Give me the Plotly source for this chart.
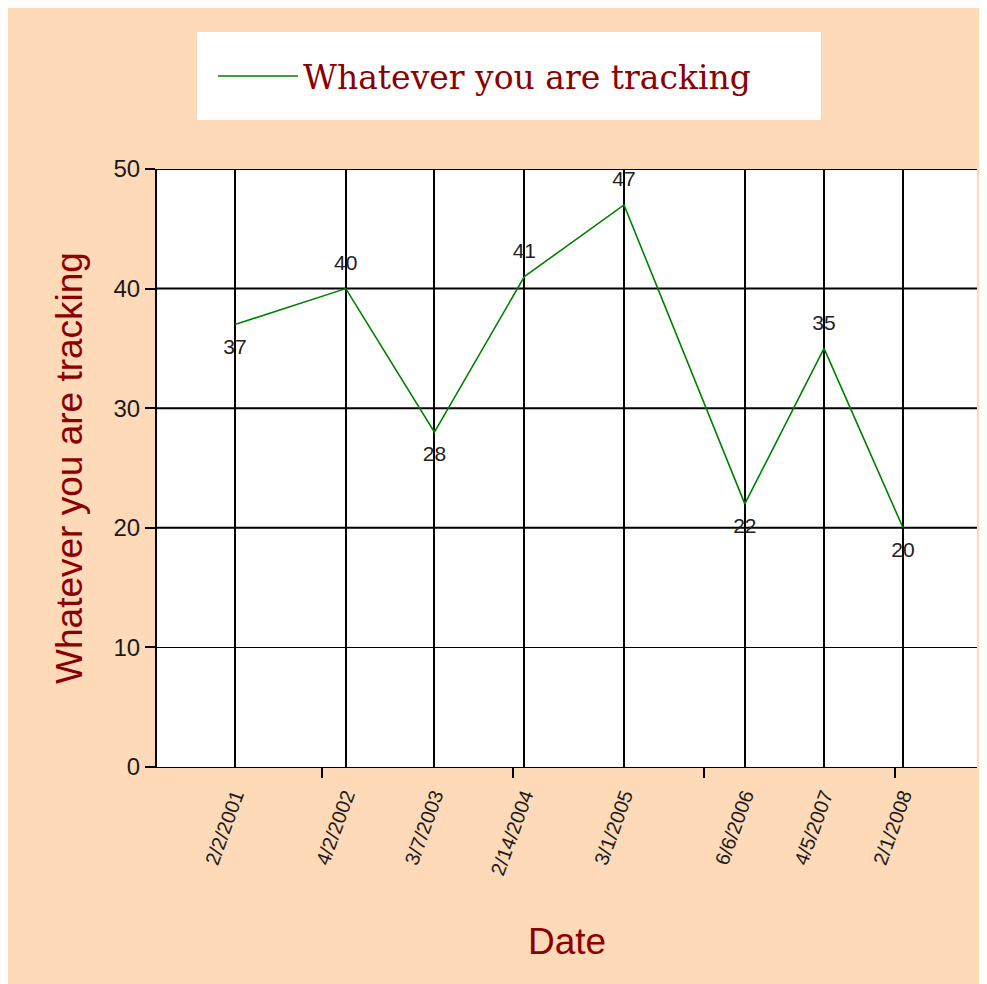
import plotly.graph_objects as go

# ---- data ----
dates = ["2001-02-02", "2002-04-02", "2003-03-07", "2004-02-14",
         "2005-03-01", "2006-06-06", "2007-04-05", "2008-02-01"]
date_labels = ["2/2/2001", "4/2/2002", "3/7/2003", "2/14/2004",
               "3/1/2005", "6/6/2006", "4/5/2007", "2/1/2008"]
values = [37, 40, 28, 41, 47, 22, 35, 20]
label_positions = ["bottom center", "top center", "bottom center", "top center",
                   "top center", "bottom center", "top center", "bottom center"]
series_name = "Whatever you are tracking"
x_title = "Date"
y_ticks = [0, 10, 20, 30, 40, 50]
y_thick_grid = [20, 30, 40, 50]
x_minor_ticks = ["2002-01-01", "2004-01-01", "2006-01-01", "2008-01-01"]
x_range = ["2000-04-10", "2008-11-10"]
y_range = [0, 50]

PEACH = "#FFDAB9"
DARKRED = "#8B0000"
W, H = 987, 984
ML, MR, MT, MB = 149, 18, 161, 225
PW, PH = W - ML - MR, H - MT - MB

fig = go.Figure()
fig.add_trace(go.Scatter(
    x=dates, y=values, name=series_name, mode="lines",
    line=dict(color="green", width=1.6),
))
fig.add_trace(go.Scatter(
    x=dates, y=values, mode="markers+text", showlegend=False,
    marker=dict(size=20, opacity=0, color="green"),
    text=[str(v) for v in values], textposition=label_positions,
    textfont=dict(family="Liberation Sans, Arial, sans-serif", size=21, color="#222222"),
    cliponaxis=False, hoverinfo="skip",
))

for v in y_thick_grid:
    fig.add_hline(y=v, line=dict(color="black", width=2), layer="below")

fig.update_layout(
    width=W, height=H,
    margin=dict(l=ML, r=MR, t=MT, b=MB, autoexpand=False),
    paper_bgcolor=PEACH, plot_bgcolor="white",
    font=dict(family="Liberation Sans, Arial, sans-serif", color="#1a1a1a"),
    showlegend=True,
    legend=dict(
        orientation="h",
        x=(189 - ML) / PW, xanchor="left",
        y=(PH + MT - 24) / PH, yanchor="top",
        bgcolor="white", bordercolor="white", borderwidth=16,
        font=dict(family="DejaVu Serif", size=33, color=DARKRED),
        itemwidth=80, entrywidth=497,
    ),
    xaxis=dict(
        type="date", range=x_range,
        tickmode="array", tickvals=dates, ticktext=date_labels,
        tickangle=-70, tickfont=dict(size=20, color="#1a1a1a"),
        ticks="", ticklabelstandoff=8,
        showgrid=True, gridcolor="black", gridwidth=2,
        showline=True, linecolor="black", linewidth=1,
        zeroline=False, automargin=False,
        minor=dict(tickmode="array", tickvals=x_minor_ticks, ticks="outside",
                   ticklen=10, tickwidth=2, tickcolor="black", showgrid=False),
        title=dict(text=x_title, font=dict(size=37, color=DARKRED), standoff=50),
    ),
    yaxis=dict(
        range=y_range, tickmode="array", tickvals=y_ticks,
        ticks="outside", ticklen=10, tickwidth=2, tickcolor="black",
        tickfont=dict(size=24, color="#1a1a1a"),
        showgrid=True, gridcolor="black", gridwidth=1,
        showline=True, linecolor="black", linewidth=2,
        zeroline=False, automargin=False,
        title=dict(text=series_name, font=dict(size=37, color=DARKRED), standoff=20),
    ),
)

fig.write_html("out.html")
